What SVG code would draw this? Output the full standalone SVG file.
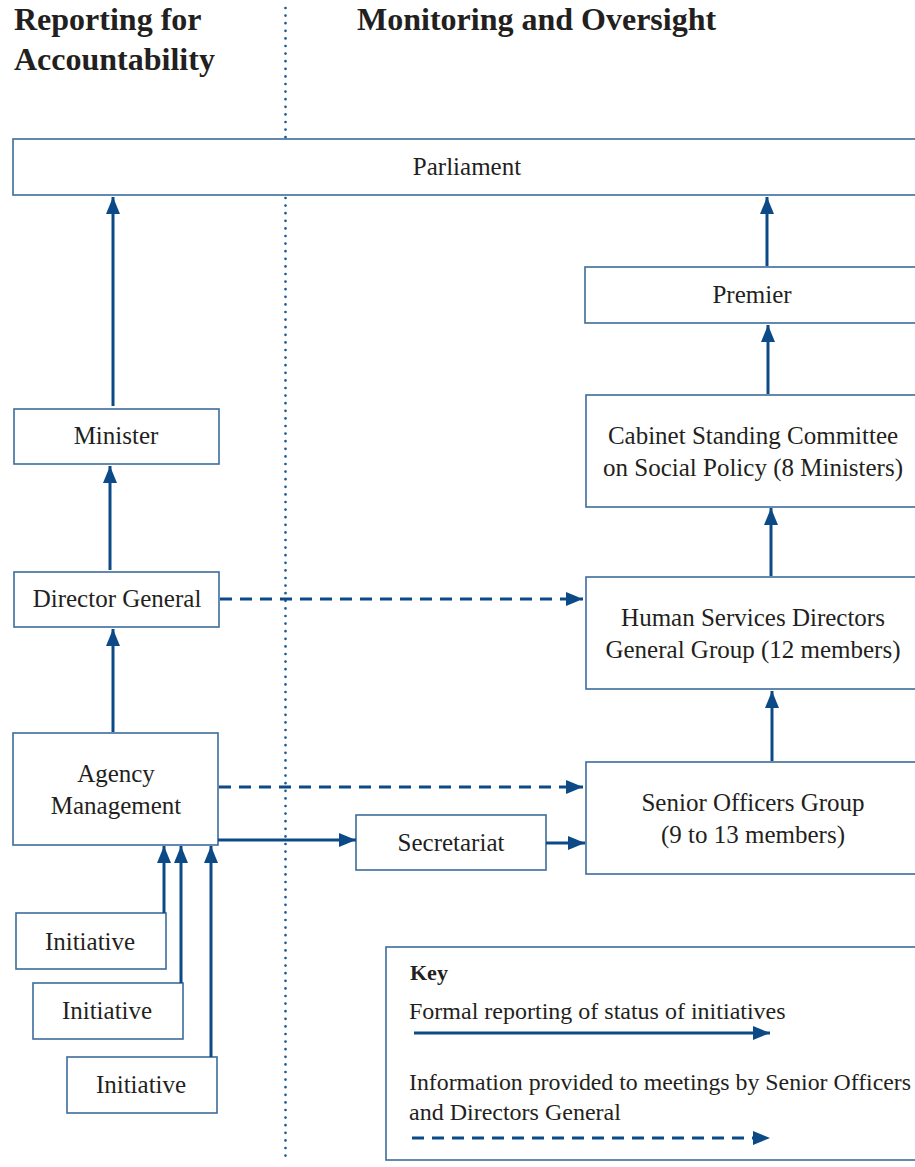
<svg xmlns="http://www.w3.org/2000/svg" width="915" height="1167" viewBox="0 0 915 1167">
<style>
.box{fill:#fff;stroke:#3d6c9c;stroke-width:1.6}
.t{font-family:"Liberation Serif","Times New Roman",serif;font-size:25px;fill:#231f20;text-anchor:middle}
.tl{font-family:"Liberation Serif","Times New Roman",serif;font-size:24px;fill:#231f20}
.h{font-family:"Liberation Serif","Times New Roman",serif;font-size:32px;font-weight:bold;fill:#231f20}
.c{fill:none;stroke:#0b4a86;stroke-width:3}
.d{fill:none;stroke:#0b4a86;stroke-width:3;stroke-dasharray:12 8}
.dot{fill:none;stroke:#1a5a96;stroke-width:2.7;stroke-linecap:round;stroke-dasharray:0 7.6}
</style>
<defs>
<marker id="ah" markerUnits="userSpaceOnUse" markerWidth="17" markerHeight="14" refX="17" refY="7" orient="auto">
<path d="M0,0 L17,7 L0,14 z" fill="#0b4a86"/>
</marker>
</defs>
<rect width="915" height="1167" fill="#fff"/>
<g id="headings">
<text class="h" x="14" y="30">Reporting for</text>
<text class="h" x="14" y="70">Accountability</text>
<text class="h" x="357" y="30">Monitoring and Oversight</text>
</g>
<line id="divider" class="dot" x1="285.5" y1="8" x2="285.5" y2="1163"/>
<g id="parliament"><rect class="box" x="13" y="139" width="920" height="56"/><text class="t" x="467" y="175">Parliament</text></g>
<g id="premier"><rect class="box" x="585" y="267" width="345" height="56"/><text class="t" x="752" y="303">Premier</text></g>
<g id="cabinet"><rect class="box" x="586" y="395" width="345" height="112"/><text class="t" x="753" y="444">Cabinet Standing Committee</text><text class="t" x="753" y="476">on Social Policy (8 Ministers)</text></g>
<g id="hsdg"><rect class="box" x="586" y="577" width="345" height="112"/><text class="t" x="753" y="626">Human Services Directors</text><text class="t" x="753" y="658">General Group (12 members)</text></g>
<g id="sog"><rect class="box" x="586" y="762" width="345" height="112"/><text class="t" x="753" y="811">Senior Officers Group</text><text class="t" x="753" y="843">(9 to 13 members)</text></g>
<g id="minister"><rect class="box" x="14" y="409" width="205" height="55"/><text class="t" x="116" y="444">Minister</text></g>
<g id="dg"><rect class="box" x="14" y="572" width="205" height="55"/><text class="t" x="117" y="607">Director General</text></g>
<g id="agency"><rect class="box" x="13" y="733" width="205" height="112"/><text class="t" x="116" y="782">Agency</text><text class="t" x="116" y="814">Management</text></g>
<g id="secretariat"><rect class="box" x="356" y="815" width="190" height="55"/><text class="t" x="451" y="851">Secretariat</text></g>
<g id="init1"><rect class="box" x="16" y="913" width="150" height="56"/><text class="t" x="90" y="950">Initiative</text></g>
<g id="init2"><rect class="box" x="33" y="983" width="150" height="56"/><text class="t" x="107" y="1019">Initiative</text></g>
<g id="init3"><rect class="box" x="67" y="1057" width="150" height="56"/><text class="t" x="141" y="1093">Initiative</text></g>
<g id="connectors">
<line class="c" x1="113" y1="406" x2="113" y2="197" marker-end="url(#ah)"/>
<line class="c" x1="110" y1="570" x2="110" y2="466" marker-end="url(#ah)"/>
<line class="c" x1="113" y1="732" x2="113" y2="629" marker-end="url(#ah)"/>
<line class="c" x1="767" y1="266" x2="767" y2="197" marker-end="url(#ah)"/>
<line class="c" x1="768" y1="394" x2="768" y2="325" marker-end="url(#ah)"/>
<line class="c" x1="771" y1="576" x2="771" y2="508" marker-end="url(#ah)"/>
<line class="c" x1="772" y1="761" x2="772" y2="691" marker-end="url(#ah)"/>
<line class="d" x1="220" y1="599" x2="583" y2="599" marker-end="url(#ah)"/>
<line class="d" x1="219" y1="787" x2="583" y2="787" marker-end="url(#ah)"/>
<line class="c" x1="218" y1="840" x2="356" y2="840" marker-end="url(#ah)"/>
<line class="c" x1="546" y1="843" x2="585" y2="843" marker-end="url(#ah)"/>
<line class="c" x1="164" y1="913" x2="164" y2="846" marker-end="url(#ah)"/>
<line class="c" x1="181" y1="983" x2="181" y2="846" marker-end="url(#ah)"/>
<line class="c" x1="211" y1="1057" x2="211" y2="846" marker-end="url(#ah)"/>
</g>
<g id="key">
<rect class="box" x="386" y="947" width="545" height="213"/>
<text class="tl" x="410" y="980" style="font-weight:bold;font-size:22px">Key</text>
<text class="tl" x="409" y="1019">Formal reporting of status of initiatives</text>
<line class="c" x1="414" y1="1033" x2="770" y2="1033" marker-end="url(#ah)"/>
<text class="tl" x="409" y="1090" textLength="502" lengthAdjust="spacingAndGlyphs">Information provided to meetings by Senior Officers</text>
<text class="tl" x="409" y="1120">and Directors General</text>
<line class="d" x1="412" y1="1138" x2="770" y2="1138" marker-end="url(#ah)"/>
</g>
</svg>
